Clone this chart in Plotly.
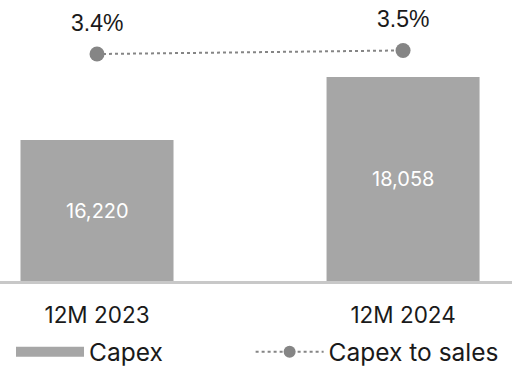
import plotly.graph_objects as go

# Capex (bars) and capex-to-sales ratio (dotted line) by period
periods = ["12M 2023", "12M 2024"]
capex = [16220, 18058]
capex_to_sales = [3.4, 3.5]

BAR_GREY = "#a6a6a6"
DOT_GREY = "#858585"
TEXT_FONT = "Inter"

# value axis starts above zero, so bars show only their upper part
Y_MIN, Y_MAX = 12107, 20304

x_pos = list(range(len(periods)))

fig = go.Figure()

fig.add_trace(go.Bar(
    x=x_pos,
    y=capex,
    width=0.5,
    marker=dict(color=BAR_GREY, line=dict(width=0)),
    name="Capex",
    showlegend=False,
))

fig.add_trace(go.Scatter(
    x=x_pos,
    y=capex_to_sales,
    yaxis="y2",
    mode="lines+markers",
    line=dict(color=DOT_GREY, width=2, dash="dot"),
    marker=dict(color=DOT_GREY, size=15),
    name="Capex to sales",
    showlegend=False,
))

# Legend entries (one legend box each)
fig.add_trace(go.Scatter(
    x=[None], y=[None], mode="lines",
    line=dict(color=BAR_GREY, width=15),
    name="Capex", legend="legend",
))
fig.add_trace(go.Scatter(
    x=[None], y=[None], mode="lines+markers", yaxis="y2",
    line=dict(color=DOT_GREY, width=2, dash="dot"),
    marker=dict(color=DOT_GREY, size=12),
    name="Capex to sales", legend="legend2",
))

# Value labels centred in the visible part of each bar
for xi, v in zip(x_pos, capex):
    fig.add_annotation(
        x=xi, y=(max(Y_MIN, 0) + v) / 2, xref="x", yref="y",
        text=f"{v:,}", showarrow=False,
        font=dict(family=TEXT_FONT, size=20, color="white"),
    )

# Percentage labels above the ratio markers
for xi, v in zip(x_pos, capex_to_sales):
    fig.add_annotation(
        x=xi, y=v, xref="x", yref="y2",
        text=f"{v:.1f}%", showarrow=False, yshift=31,
        font=dict(family="Liberation Sans", size=23, color="#1a1a1a"),
    )

legend_common = dict(
    orientation="h",
    yanchor="middle",
    y=-0.252,
    font=dict(family=TEXT_FONT, size=24.5, color="#1a1a1a"),
    bgcolor="rgba(0,0,0,0)",
    itemwidth=68,
)

fig.update_layout(
    width=512, height=374,
    margin=dict(l=0, r=0, t=0, b=93, autoexpand=False),
    paper_bgcolor="white",
    plot_bgcolor="white",
    font=dict(family=TEXT_FONT, size=23, color="#1a1a1a"),
    xaxis=dict(
        range=[-0.317, 1.356],
        tickvals=x_pos,
        ticktext=periods,
        showgrid=False, zeroline=False,
        showline=True, linecolor="#c8c8c8", linewidth=3,
        ticks="", ticklabelstandoff=12,
        tickfont=dict(family=TEXT_FONT, size=22.5, color="#1a1a1a"),
    ),
    yaxis=dict(
        range=[Y_MIN, Y_MAX],
        visible=False, showgrid=False, zeroline=False,
    ),
    yaxis2=dict(
        range=[-2.9, 4.9],
        overlaying="y", side="right",
        visible=False, showgrid=False, zeroline=False,
    ),
    legend=dict(x=0.0215, xanchor="left", **legend_common),
    legend2=dict(x=0.4895, xanchor="left", **legend_common),
)

fig.write_html("out.html")
